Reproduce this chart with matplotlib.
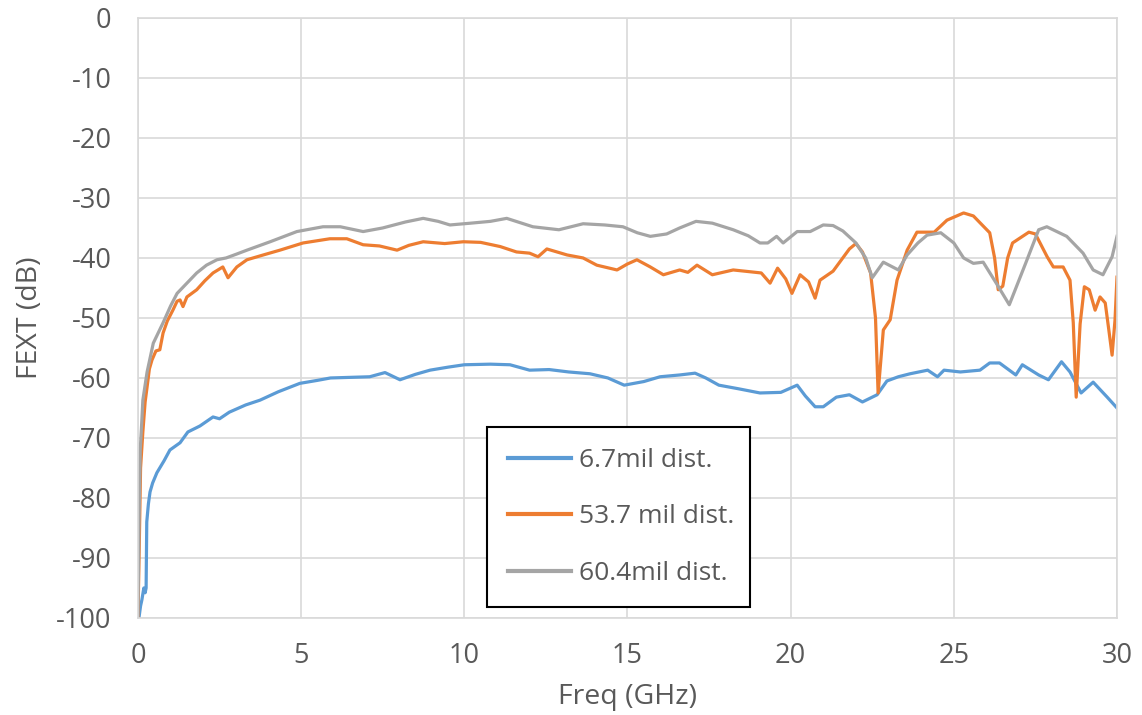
import matplotlib
matplotlib.use("Agg")
import matplotlib.pyplot as plt

plt.rcParams['font.family'] = ['Open Sans', 'DejaVu Sans']
plt.rcParams['axes.unicode_minus'] = False

# FEXT traces (frequency in GHz, level in dB)
freq_a = [0.03, 0.08, 0.12, 0.18, 0.22, 0.25, 0.27, 0.32, 0.37, 0.45, 0.58, 0.8, 0.98, 1.29, 1.53,
          1.9, 2.3, 2.5, 2.8, 3.3, 3.74, 4.3, 4.96, 5.5, 5.9, 6.5, 7.1, 7.57, 8.03, 8.5, 8.95,
          9.5, 10.0, 10.8, 11.4, 12.0, 12.6, 13.2, 13.85, 14.4, 14.9, 15.5, 16.0, 16.6, 17.07,
          17.4, 17.8, 18.4, 19.06, 19.7, 20.2, 20.45, 20.75, 21.0, 21.4, 21.8, 22.2, 22.65,
          22.95, 23.3, 23.66, 24.2, 24.5, 24.7, 25.2, 25.8, 26.1, 26.4, 26.9, 27.1, 27.6, 27.9,
          28.3, 28.56, 28.9, 29.27, 29.7, 30]
fext_a = [-100, -98, -97, -95, -95.8, -95, -84, -81, -79, -77.5, -75.8, -73.8, -72, -70.8, -69,
          -68, -66.5, -66.8, -65.7, -64.5, -63.7, -62.3, -60.9, -60.4, -60, -59.9, -59.8, -59.1,
          -60.3, -59.4, -58.7, -58.2, -57.8, -57.7, -57.8, -58.7, -58.6, -59.0, -59.3, -60.0,
          -61.2, -60.6, -59.8, -59.5, -59.2, -60.0, -61.2, -61.8, -62.5, -62.4, -61.2, -63.0,
          -64.8, -64.8, -63.2, -62.8, -64.0, -62.8, -60.5, -59.8, -59.3, -58.7, -59.8, -58.7,
          -59.0, -58.7, -57.5, -57.5, -59.5, -57.8, -59.5, -60.3, -57.3, -59.0, -62.5, -60.7,
          -63.2, -65.0]

freq_b = [0, 0.04, 0.08, 0.15, 0.22, 0.28, 0.35, 0.43, 0.55, 0.67, 0.77, 0.9, 1.07, 1.2, 1.29,
          1.38, 1.5, 1.8, 2.05, 2.3, 2.6, 2.76, 3.03, 3.34, 3.84, 4.35, 5.06, 5.88, 6.4, 6.9,
          7.4, 7.94, 8.3, 8.74, 9.4, 9.97, 10.5, 11.1, 11.6, 12.0, 12.26, 12.53, 13.15, 13.64,
          14.06, 14.68, 15.0, 15.29, 15.7, 16.1, 16.6, 16.85, 17.13, 17.6, 18.24, 18.76, 19.1,
          19.37, 19.6, 19.85, 20.04, 20.29, 20.55, 20.75, 20.9, 21.3, 21.8, 22.0, 22.2, 22.45,
          22.6, 22.68, 22.78, 22.84, 23.05, 23.26, 23.57, 23.87, 24.4, 24.79, 25.3, 25.6, 26.1,
          26.25, 26.36, 26.5, 26.65, 26.8, 27.3, 27.5, 27.86, 28.05, 28.35, 28.56, 28.66, 28.75,
          28.87, 29.0, 29.15, 29.33, 29.48, 29.64, 29.75, 29.85, 29.94, 30]
fext_b = [-100, -88, -75, -69, -64, -61.5, -58.5, -57, -55.5, -55.3, -52.5, -50.5, -48.7, -47.2,
          -47, -48.1, -46.5, -45.3, -43.8, -42.5, -41.5, -43.3, -41.5, -40.3, -39.5, -38.7,
          -37.5, -36.8, -36.8, -37.8, -38.0, -38.7, -37.9, -37.3, -37.6, -37.3, -37.4, -38.1,
          -39.0, -39.2, -39.8, -38.5, -39.5, -40.0, -41.2, -42.0, -41.0, -40.3, -41.5, -42.8,
          -42.0, -42.4, -41.2, -42.8, -42.0, -42.3, -42.5, -44.2, -41.7, -43.5, -45.9, -42.8,
          -44.0, -46.7, -43.7, -42.2, -38.5, -37.6, -39.0, -42.5, -50.0, -62.5, -56.0, -52.0,
          -50.3, -43.7, -38.7, -35.7, -35.7, -33.7, -32.5, -33.0, -35.8, -40.0, -45.3, -44.7,
          -40.0, -37.5, -35.7, -36.0, -39.8, -41.5, -41.5, -43.7, -50.8, -63.2, -51.0, -44.8,
          -45.3, -48.7, -46.5, -47.5, -52.0, -56.2, -50.3, -43.2]

freq_c = [0, 0.03, 0.07, 0.12, 0.15, 0.28, 0.47, 0.77, 1.0, 1.2, 1.5, 1.8, 2.1, 2.42, 2.7, 3.0,
          3.34, 4.05, 4.87, 5.67, 6.2, 6.9, 7.5, 8.2, 8.74, 9.2, 9.56, 10.2, 10.8, 11.3, 12.1,
          12.9, 13.64, 14.3, 14.86, 15.3, 15.7, 16.2, 16.6, 17.1, 17.6, 18.24, 18.7, 19.06,
          19.3, 19.57, 19.77, 20.2, 20.6, 21.0, 21.3, 21.6, 22.0, 22.3, 22.5, 22.84, 23.3,
          23.57, 23.9, 24.18, 24.6, 25.0, 25.3, 25.6, 25.9, 26.3, 26.7, 27.2, 27.6, 27.85,
          28.46, 28.96, 29.27, 29.57, 29.85, 30]
fext_c = [-100, -85, -72, -67, -63.7, -59, -54.2, -50.8, -48, -45.9, -44.2, -42.5, -41.2, -40.3,
          -40.0, -39.4, -38.7, -37.3, -35.6, -34.8, -34.8, -35.6, -35.0, -34.0, -33.4, -33.9,
          -34.5, -34.2, -33.9, -33.4, -34.8, -35.3, -34.3, -34.5, -34.8, -35.8, -36.4, -36.0,
          -35.0, -33.9, -34.2, -35.3, -36.3, -37.5, -37.5, -36.4, -37.5, -35.6, -35.6, -34.5,
          -34.6, -35.5, -37.5, -40.0, -43.3, -40.7, -42.0, -39.5, -37.5, -36.2, -35.8, -37.5,
          -40.0, -40.9, -40.7, -44.2, -47.8, -40.9, -35.3, -34.8, -36.4, -39.2, -42.0, -42.8,
          -39.8, -36.4]

series_labels = ["6.7mil dist.", "53.7 mil dist.", "60.4mil dist."]
series_colors = ["#5B9BD5", "#ED7D31", "#A5A5A5"]
x_ticks = [0, 5, 10, 15, 20, 25, 30]
y_ticks = list(range(-100, 1, 10))

fig = plt.figure(figsize=(11.42, 7.15), dpi=100)
ax = fig.add_axes([0.1208, 0.1357, 0.8573, 0.8392])

for fx, fy, lab, col in zip([freq_a, freq_b, freq_c], [fext_a, fext_b, fext_c],
                            series_labels, series_colors):
    ax.plot(fx, fy, color=col, lw=2.3, label=lab, solid_joinstyle='round')

ax.set_xlim(0, 30)
ax.set_ylim(-100, 0)
ax.set_xticks(x_ticks)
ax.set_yticks(y_ticks)
ax.grid(True, color="#D9D9D9", lw=1.2)
ax.set_axisbelow(True)
for s in ax.spines.values():
    s.set_color("#D9D9D9")
    s.set_linewidth(1.2)
ax.tick_params(length=0, labelsize=19.5, colors="#595959")
ax.tick_params(axis='x', pad=17)
ax.tick_params(axis='y', pad=19)

ax.set_xlabel("Freq (GHz)", fontsize=20.5, color="#595959", labelpad=10)
ax.set_ylabel("FEXT (dB)", fontsize=20.5, color="#595959", labelpad=9)

leg = ax.legend(loc="upper left", bbox_to_anchor=(0.3565, 0.318, 0.2685, 0.0), mode="expand",
                fontsize=19, handlelength=2.4, labelspacing=1.2, borderpad=0.78,
                handletextpad=0.3, fancybox=False, framealpha=1, borderaxespad=0)
leg.get_frame().set_edgecolor("black")
leg.get_frame().set_linewidth(1.5)
for t in leg.get_texts():
    t.set_color("#595959")
for h in leg.get_lines():
    h.set_linewidth(3.0)

fig.savefig("out.png", dpi=100)
